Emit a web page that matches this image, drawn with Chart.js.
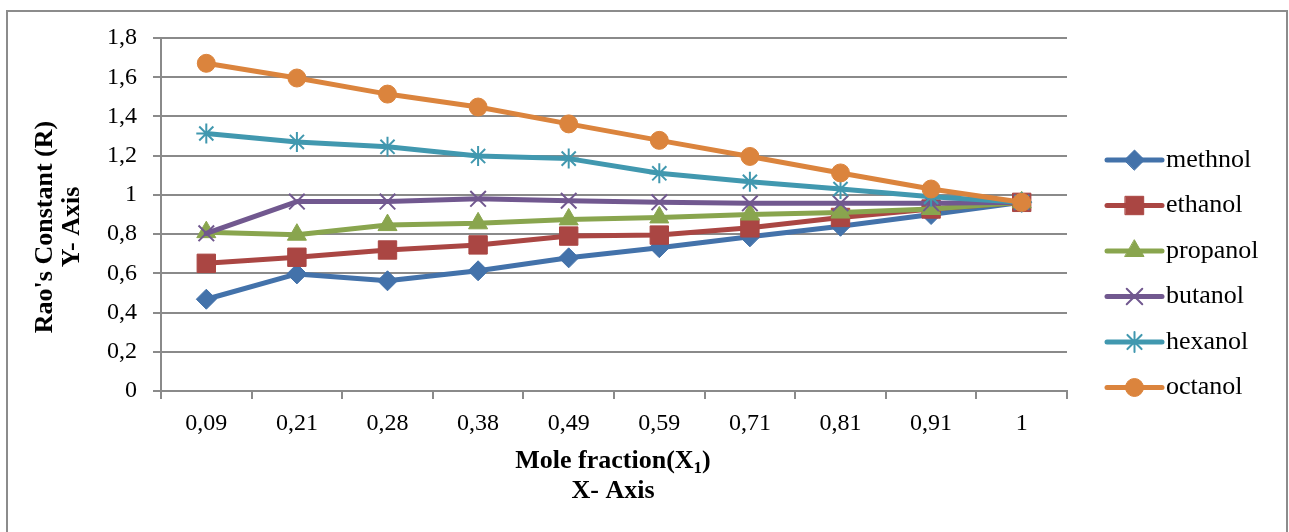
<!DOCTYPE html>
<html>
<head>
<meta charset="utf-8">
<title>Rao's Constant vs Mole fraction</title>
<script src="https://cdn.jsdelivr.net/npm/chart.js@4.4.1/dist/chart.umd.min.js"></script>
<style>
    html, body { margin: 0; padding: 0; background: #fff; }
    #wrap { position: relative; width: 1289px; height: 532px; overflow: hidden; }
    #frame {
        position: absolute; left: 6px; top: 10px; width: 1282px; height: 560px;
        border: 2px solid #8c8c8c; box-sizing: border-box;
    }
    #chart { position: absolute; left: 0; top: 0; }
</style>
</head>
<body>
<div id="wrap">
    <div id="frame"></div>
    <canvas id="chart" width="1289" height="532"></canvas>
</div>
<script>
// Chart data
const moleFractions = ['0,09', '0,21', '0,28', '0,38', '0,49', '0,59', '0,71', '0,81', '0,91', '1'];
const yTickLabels = ['0', '0,2', '0,4', '0,6', '0,8', '1', '1,2', '1,4', '1,6', '1,8'];
const seriesNames = ['methnol', 'ethanol', 'propanol', 'butanol', 'hexanol', 'octanol'];

const methnol  = [0.468, 0.597, 0.562, 0.613, 0.679, 0.731, 0.786, 0.840, 0.900, 0.962];
const ethanol  = [0.651, 0.682, 0.719, 0.745, 0.790, 0.795, 0.832, 0.885, 0.928, 0.962];
const propanol = [0.810, 0.797, 0.846, 0.855, 0.875, 0.885, 0.900, 0.910, 0.928, 0.962];
const butanol  = [0.804, 0.966, 0.966, 0.980, 0.970, 0.962, 0.957, 0.957, 0.957, 0.962];
const hexanol  = [1.313, 1.270, 1.245, 1.198, 1.185, 1.110, 1.067, 1.030, 0.990, 0.962];
const octanol  = [1.671, 1.596, 1.514, 1.448, 1.362, 1.278, 1.196, 1.112, 1.030, 0.962];

const seriesValues = [methnol, ethanol, propanol, butanol, hexanol, octanol];

// Styles
const seriesColors = ['#4372aa', '#aa4643', '#89a54e', '#71588f', '#4198af', '#db843d'];
const markerStyles = ['rectRot', 'rect', 'triangle', 'crossRot', 'star', 'circle'];
const markerSizes = [10, 13, 11, 11, 10, 9];

const gridGray = '#8a8a8a';
const serif = "'Liberation Serif', 'Times New Roman', serif";

const datasets = seriesNames.map((name, i) => ({
    label: name,
    data: seriesValues[i],
    borderColor: seriesColors[i],
    backgroundColor: seriesColors[i],
    borderWidth: 5,
    borderCapStyle: 'round',
    borderJoinStyle: 'round',
    tension: 0,
    pointStyle: markerStyles[i],
    pointRadius: markerSizes[i],
    pointBackgroundColor: seriesColors[i],
    pointBorderColor: seriesColors[i],
    pointBorderWidth: (markerStyles[i] === 'crossRot' || markerStyles[i] === 'star') ? 2 : 1,
    order: seriesNames.length - i
}));

// Legend drawn at the right: line with marker, then label
const legendPlugin = {
    id: 'sideLegend',
    afterDraw(chart) {
        const ctx = chart.ctx;
        const x0 = 1107, x1 = 1162, top = 160, step = 45.5;
        ctx.save();
        chart.data.datasets.forEach((ds, i) => {
            const y = top + i * step;
            ctx.strokeStyle = ds.borderColor;
            ctx.lineWidth = 5;
            ctx.lineCap = 'round';
            ctx.beginPath();
            ctx.moveTo(x0, y);
            ctx.lineTo(x1, y);
            ctx.stroke();

            ctx.fillStyle = ds.pointBackgroundColor;
            ctx.strokeStyle = ds.pointBorderColor;
            ctx.lineWidth = ds.pointBorderWidth;
            Chart.helpers.drawPoint(ctx, {
                pointStyle: ds.pointStyle,
                radius: ds.pointRadius,
                rotation: 0,
                borderWidth: ds.pointBorderWidth
            }, (x0 + x1) / 2, y);

            ctx.fillStyle = '#000';
            ctx.font = '26px ' + serif;
            ctx.textAlign = 'left';
            ctx.textBaseline = 'middle';
            ctx.fillText(ds.label, 1166, y);
        });
        ctx.restore();
    }
};

// Axis titles
const titlePlugin = {
    id: 'axisTitles',
    afterDraw(chart) {
        const ctx = chart.ctx;
        ctx.save();
        ctx.fillStyle = '#000';
        ctx.font = 'bold 26px ' + serif;
        ctx.textAlign = 'center';
        ctx.textBaseline = 'alphabetic';

        // Y title, two rotated lines
        [["Rao's Constant (R)", 52], ['Y- Axis', 79]].forEach(([text, bx]) => {
            ctx.save();
            ctx.translate(bx, 227);
            ctx.rotate(-Math.PI / 2);
            ctx.fillText(text, 0, 0);
            ctx.restore();
        });

        // X title with subscript
        const main = 'Mole fraction(X';
        const sub = '1';
        const close = ')';
        ctx.font = 'bold 26px ' + serif;
        const wMain = ctx.measureText(main).width;
        const wClose = ctx.measureText(close).width;
        ctx.font = 'bold 17px ' + serif;
        const wSub = ctx.measureText(sub).width;
        const total = wMain + wSub + wClose;
        let x = 613 - total / 2;
        const by = 468;
        ctx.textAlign = 'left';
        ctx.font = 'bold 26px ' + serif;
        ctx.fillText(main, x, by);
        x += wMain;
        ctx.font = 'bold 17px ' + serif;
        ctx.fillText(sub, x, by + 5);
        x += wSub;
        ctx.font = 'bold 26px ' + serif;
        ctx.fillText(close, x, by);

        ctx.textAlign = 'center';
        ctx.fillText('X- Axis', 613, 498);
        ctx.restore();
    }
};

new Chart(document.getElementById('chart'), {
    type: 'line',
    data: {
        labels: moleFractions,
        datasets: datasets
    },
    options: {
        responsive: false,
        animation: false,
        layout: {
            padding: { left: 0, right: 222, top: 38, bottom: 0 }
        },
        plugins: {
            legend: { display: false },
            tooltip: { enabled: false },
            title: { display: false }
        },
        scales: {
            x: {
                type: 'category',
                offset: true,
                grid: {
                    offset: true,
                    drawOnChartArea: false,
                    drawTicks: true,
                    tickLength: 8,
                    color: gridGray,
                    lineWidth: 2
                },
                border: { color: gridGray, width: 2 },
                ticks: {
                    color: '#000',
                    font: { family: serif, size: 24 },
                    padding: 10,
                    maxRotation: 0,
                    autoSkip: false
                },
                afterFit: (scale) => { scale.height = 141; }
            },
            y: {
                min: 0,
                max: 1.8,
                grid: {
                    color: gridGray,
                    lineWidth: 2,
                    drawTicks: true,
                    tickLength: 8
                },
                border: { color: gridGray, width: 2 },
                ticks: {
                    stepSize: 0.2,
                    color: '#000',
                    font: { family: serif, size: 24 },
                    padding: 16,
                    callback: (value) => yTickLabels[Math.round(value / 0.2)]
                },
                afterFit: (scale) => { scale.width = 161; }
            }
        }
    },
    plugins: [legendPlugin, titlePlugin]
});
</script>
</body>
</html>
